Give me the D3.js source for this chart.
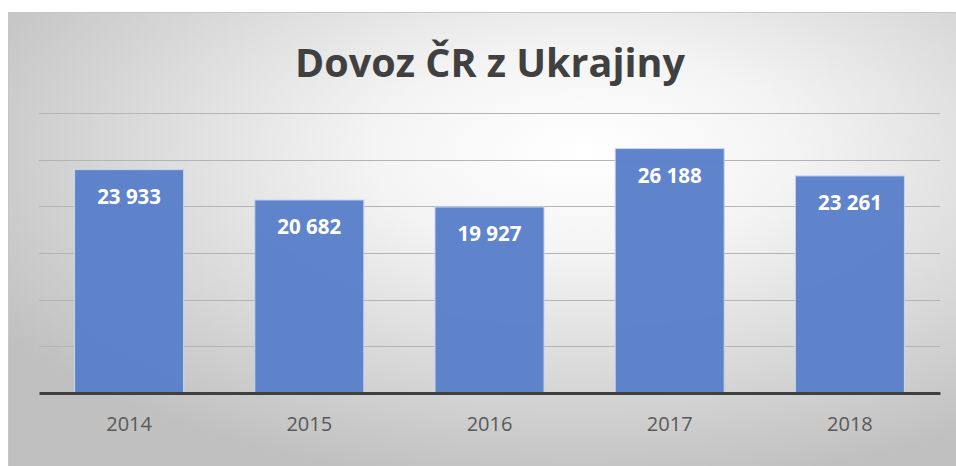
<!DOCTYPE html>
<html>
<head>
<meta charset="utf-8">
<script src="https://cdn.jsdelivr.net/npm/d3@7"></script>
<style>
  html, body { margin: 0; padding: 0; background: #fff; }
  svg { display: block; }
</style>
</head>
<body>
<div id="chart"></div>
<script>
// data
const years = ["2014", "2015", "2016", "2017", "2018"];
const imports = [23933, 20682, 19927, 26188, 23261];
const gridTicks = [0, 5000, 10000, 15000, 20000, 25000, 30000];
const title = "Dovoz ČR z Ukrajiny";

const width = 956, height = 466;
let margin = {top: 113, right: 16, bottom: 73, left: 39};

const svg = d3.select("#chart")
  .append("svg")
  .attr("width", width)
  .attr("height", height);

// background gradient like the office chart area
const defs = svg.append("defs");
const grad = defs.append("radialGradient")
  .attr("id", "bg")
  .attr("cx", "60%")
  .attr("cy", "30%")
  .attr("r", "72%");
grad.append("stop").attr("offset", "0%").attr("stop-color", "#ffffff");
grad.append("stop").attr("offset", "30%").attr("stop-color", "#f4f4f4");
grad.append("stop").attr("offset", "100%").attr("stop-color", "#c0c0c0");

svg.append("rect")
  .attr("x", 8.5)
  .attr("y", 12.5)
  .attr("width", width)
  .attr("height", height)
  .attr("fill", "url(#bg)")
  .attr("stroke", "#c6c6c6");

const x = d3.scaleBand()
  .domain(years)
  .range([margin.left, width - margin.right])
  .paddingInner(0.395)
  .paddingOuter(0.1975);

const y = d3.scaleLinear()
  .domain([0, 30000])
  .range([height - margin.bottom, margin.top]);

// gridlines
svg.append("g")
  .selectAll("line")
  .data(gridTicks.slice(1))
  .enter()
  .append("line")
  .attr("x1", margin.left)
  .attr("x2", width - margin.right)
  .attr("y1", d => Math.round(y(d)) + 0.5)
  .attr("y2", d => Math.round(y(d)) + 0.5)
  .attr("stroke", "#b4b4b4")
  .attr("stroke-width", 1);

// bars
svg.append("g")
  .selectAll("rect")
  .data(imports)
  .enter()
  .append("rect")
  .attr("x", (d, i) => x(years[i]))
  .attr("y", d => y(d))
  .attr("width", x.bandwidth())
  .attr("height", d => y(0) - y(d))
  .attr("fill", "#5a80c9")
  .attr("fill-opacity", 0.97)
  .attr("stroke", "#c9d6ee")
  .attr("stroke-width", 1);

// value labels
const fmt = v => d3.format(",")(v).replace(/,/g, " ");
svg.append("g")
  .selectAll("text")
  .data(imports)
  .enter()
  .append("text")
  .attr("x", (d, i) => x(years[i]) + x.bandwidth() / 2)
  .attr("y", d => y(d) + 34)
  .attr("text-anchor", "middle")
  .attr("font-family", "Open Sans, sans-serif")
  .attr("font-weight", "bold")
  .attr("font-size", 20.5)
  .attr("fill", "#ffffff")
  .text(d => fmt(d));

// baseline axis
const xAxis = svg.append("g")
  .attr("transform", `translate(0,${y(0)})`)
  .call(d3.axisBottom(x).tickSize(0).tickPadding(24));
xAxis.select(".domain")
  .attr("stroke", "#404040")
  .attr("stroke-width", 3);
xAxis.selectAll("text")
  .attr("font-family", "Open Sans, sans-serif")
  .attr("font-size", 20)
  .attr("fill", "#595959");

// title
svg.append("text")
  .attr("x", 490)
  .attr("y", 77)
  .attr("text-anchor", "middle")
  .attr("font-family", "Open Sans, sans-serif")
  .attr("font-weight", "bold")
  .attr("font-size", 39.5)
  .attr("fill", "#404040")
  .text(title);
</script>
</body>
</html>
